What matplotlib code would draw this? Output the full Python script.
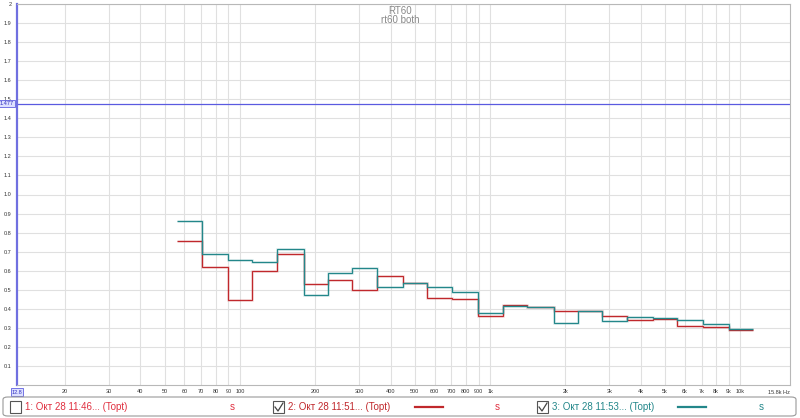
import numpy as np
import matplotlib
matplotlib.use("Agg")
import matplotlib.pyplot as plt
from matplotlib.patches import FancyBboxPatch, Rectangle
from matplotlib.lines import Line2D

plt.rcParams['font.family'] = ['Liberation Sans', 'DejaVu Sans']

# 1/3-octave band centres, Hz
bands = [63, 80, 100, 125, 160, 200, 250, 315, 400, 500, 630, 800, 1000,
         1250, 1600, 2000, 2500, 3150, 4000, 5000, 6300, 8000, 10000]
# RT60 in seconds
rt_2 = [0.754, 0.620, 0.446, 0.600, 0.690, 0.528, 0.550, 0.500, 0.573, 0.538,
        0.457, 0.450, 0.361, 0.422, 0.408, 0.387, 0.387, 0.360, 0.339, 0.347,
        0.309, 0.307, 0.291]
rt_3 = [0.860, 0.686, 0.656, 0.646, 0.715, 0.472, 0.588, 0.613, 0.516, 0.538,
        0.512, 0.486, 0.378, 0.417, 0.411, 0.326, 0.390, 0.335, 0.356, 0.354,
        0.339, 0.321, 0.293]
cursor_val = 1.477

xticks = [20, 30, 40, 50, 60, 70, 80, 90, 100, 200, 300, 400, 500, 600, 700,
          800, 900, 1000, 2000, 3000, 4000, 5000, 6000, 7000, 8000, 9000, 10000]
xlabels = ['20', '30', '40', '50', '60', '70', '80', '90', '100', '200', '300',
           '400', '500', '600', '700', '800', '900', '1k', '2k', '3k', '4k',
           '5k', '6k', '7k', '8k', '9k', '10k']
yticks = [round(0.1 * i, 1) for i in range(1, 21)]
ylabels = ['%.1f' % v for v in yticks[:-1]] + ['2']
xmin, xmax = 12.85, 15800

red = '#c0282c'
teal = '#23878a'

fig = plt.figure(figsize=(8, 4.18), dpi=100)
ax = fig.add_axes([17 / 800, 33 / 418, 773 / 800, 381 / 418])
ax.set_xscale('log')
ax.set_xlim(xmin, xmax)
ax.set_ylim(0, 1.985)

ax.set_xticks(xticks)
ax.set_xticklabels(xlabels)
ax.xaxis.set_minor_locator(matplotlib.ticker.NullLocator())
ax.set_yticks(yticks)
ax.set_yticklabels(ylabels)
ax.tick_params(axis='both', length=0, labelsize=4, colors='#333333', pad=3)
ax.tick_params(axis='y', pad=4)
ax.grid(True, color='#e0e0e0', lw=0.8)
ax.set_axisbelow(True)

for s in ['top', 'right', 'bottom']:
    ax.spines[s].set_color('#b8b8b8')
    ax.spines[s].set_linewidth(0.8)
ax.spines['left'].set_color('#7070e0')
ax.spines['left'].set_linewidth(1.6)

k = 10 ** 0.05
edges = np.concatenate([[bands[0] / k], np.array(bands) * k])
for vals, col in [(rt_2, red), (rt_3, teal)]:
    ax.stairs(vals, edges, baseline=None, color=col, lw=2.0, alpha=0.12)
    ax.stairs(vals, edges, baseline=None, color=col, lw=0.9)

ax.axhline(cursor_val, color='#5a5ae0', lw=0.9)
ax.text(-0.004, cursor_val, '%.3f' % cursor_val, transform=ax.get_yaxis_transform(),
        ha='right', va='center', fontsize=4, color='#3030c0',
        bbox=dict(boxstyle='square,pad=0.2', fc='#dde0ff', ec='#6060e0', lw=0.6))
ax.text(xmin, -0.012, '12.8', transform=ax.get_xaxis_transform(), ha='center',
        va='top', fontsize=4, color='#3030c0',
        bbox=dict(boxstyle='square,pad=0.2', fc='#dde0ff', ec='#6060e0', lw=0.6))
ax.text(xmax, -0.012, '15.8k Hz', transform=ax.get_xaxis_transform(), ha='right',
        va='top', fontsize=4, color='#333333')

fig.text(0.5, 1 - 11 / 418, 'RT60', ha='center', va='center', fontsize=7, color='#888888')
fig.text(0.5, 1 - 20 / 418, 'rt60 both', ha='center', va='center', fontsize=7, color='#888888')

# legend strip at the bottom
fig.add_artist(FancyBboxPatch((3 / 800, 2 / 418), 793 / 800, 19 / 418,
                              boxstyle='round,pad=0,rounding_size=0.006',
                              transform=fig.transFigure, fc='white', ec='#999999', lw=0.8))
entries = [
    (10, '1: Окт 28 11:46... (Topt)', '#e03040', False, None, 232),
    (273, '2: Окт 28 11:51... (Topt)', red, True, 415, 497),
    (537, '3: Окт 28 11:53... (Topt)', teal, True, 678, 761),
]
ly = 11 / 418
for x0, label, col, checked, lx, sx in entries:
    fig.add_artist(Rectangle((x0 / 800, 5 / 418), 11 / 800, 12 / 418,
                             transform=fig.transFigure, fc='white', ec='#555555', lw=0.8))
    if checked:
        fig.add_artist(Line2D([(x0 + 2) / 800, (x0 + 5) / 800, (x0 + 10) / 800],
                              [11 / 418, 7 / 418, 15 / 418],
                              transform=fig.transFigure, color='#444444', lw=0.9))
    fig.text((x0 + 15) / 800, ly, label, ha='left', va='center', fontsize=7, color=col)
    if lx is not None:
        fig.add_artist(Line2D([lx / 800, (lx + 28) / 800], [ly, ly],
                              transform=fig.transFigure, color=col, lw=1.6))
    sc = '#e03040' if col == red else col
    fig.text(sx / 800, ly, 's', ha='center', va='center', fontsize=7, color=sc)

fig.savefig('out.png', dpi=100)
